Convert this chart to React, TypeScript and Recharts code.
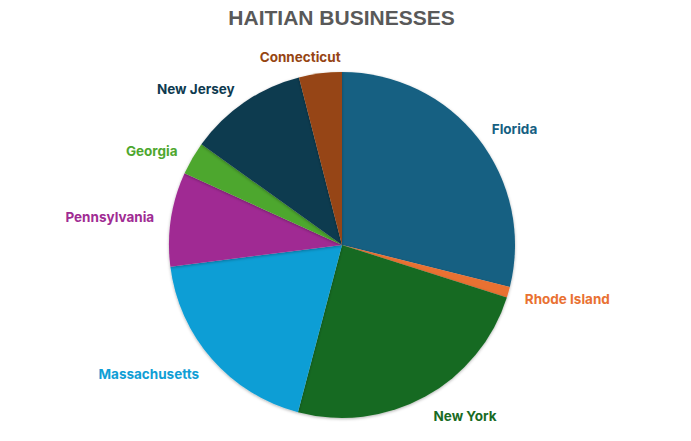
import { PieChart, Pie, Cell } from "recharts";

const states = ["Florida", "Rhode Island", "New York", "Massachusetts", "Pennsylvania", "Georgia", "New Jersey", "Connecticut"];
const shares = [28.9, 1.0, 24.2, 18.9, 8.8, 3.1, 11.1, 4.0];
const colors = ["#156082", "#E97132", "#196B24", "#0F9ED5", "#A02B93", "#4EA72E", "#0E3A4F", "#964513"];

const data = states.map((name, i) => ({ name, value: shares[i] }));

const RADIAN = Math.PI / 180;

function renderLabel(props: any) {
  const { cx, cy, midAngle, outerRadius, index, name } = props;
  const r = outerRadius + 17;
  const cos = Math.cos(-midAngle * RADIAN);
  const sin = Math.sin(-midAngle * RADIAN);
  const x = cx + r * cos;
  // labels below the centre sit a little lower, like Excel's outside-end boxes
  const y = cy + r * sin + 1 + Math.max(0, sin) * 3.5;
  let anchor: "start" | "end" | "middle" = cos >= 0 ? "start" : "end";
  if (Math.abs(cos) < 0.2) anchor = "middle";
  return (
    <text
      x={anchor === "middle" ? x - 18 : x}
      y={y}
      fill={colors[index]}
      textAnchor={anchor}
      dominantBaseline="central"
      fontFamily="Inter, 'Open Sans', sans-serif"
      fontWeight={700}
      fontSize={13.5}
    >
      {name}
    </text>
  );
}

export default function App() {
  return (
    <div style={{ position: "relative", width: 691, height: 441, background: "#fff" }}>
      <style>{`body{margin:0}`}</style>
      <div
        style={{
          position: "absolute",
          top: 6,
          left: 0,
          width: 683,
          textAlign: "center",
          fontFamily: "'Liberation Sans', Arial, sans-serif",
          fontWeight: 700,
          fontSize: 21,
          color: "#595959",
        }}
      >
        HAITIAN BUSINESSES
      </div>
      <PieChart width={691} height={441} margin={{ top: 0, right: 0, bottom: 0, left: 0 }}>
        <defs>
          <filter id="pieShadow" x="-10%" y="-10%" width="120%" height="120%">
            <feDropShadow dx="0" dy="1" stdDeviation="1.5" floodColor="#000" floodOpacity="0.3" />
          </filter>
        </defs>
        <Pie
          data={data}
          dataKey="value"
          nameKey="name"
          cx={342}
          cy={245}
          outerRadius={173}
          startAngle={90}
          endAngle={-270}
          stroke="none"
          label={renderLabel}
          labelLine={false}
          isAnimationActive={false}
          style={{ filter: "url(#pieShadow)" }}
        >
          {data.map((d, i) => (
            <Cell key={d.name} fill={colors[i]} />
          ))}
        </Pie>
      </PieChart>
    </div>
  );
}
